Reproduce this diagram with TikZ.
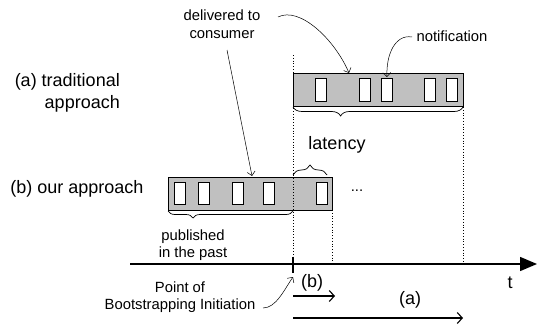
\documentclass[tikz,border=0pt]{standalone}
\usepackage{fontspec}
\setmainfont{Liberation Sans}
\usetikzlibrary{arrows.meta,decorations.pathreplacing}
\definecolor{barfill}{RGB}{192,192,192}
\newcommand\txtS{\fontsize{14.8}{17.5}\selectfont}
\newcommand\txtL{\fontsize{18}{22}\selectfont}
\begin{document}
\begin{tikzpicture}[x=1pt,y=-1pt,
  bar/.style={draw=black, line width=0.9pt, fill=barfill, inner sep=0pt, outer sep=0pt, anchor=north west, minimum height=33pt},
  notch/.style={draw=black, line width=0.8pt, fill=white, inner sep=0pt, outer sep=0pt, anchor=north west, minimum width=11pt, minimum height=23pt},
  guide/.style={dotted, line width=0.8pt},
  callout/.style={line width=0.5pt, -{Straight Barb[length=4pt,width=8pt]}},
  bigtxt/.style={font=\txtL, inner sep=0pt},
  smalltxt/.style={font=\txtS, inner sep=0pt, align=center},
  timearrow/.style={line width=1.1pt, -{Straight Barb[length=5pt,width=11pt]}}
]
\useasboundingbox (0,0) rectangle (537,329);

% bars
\node[bar, minimum width=164pt] (lowbar) at (168,177) {};
\foreach \x [count=\i] in {174,198,232,263,316}
  \node[notch, minimum height=22pt] (ln\i) at (\x,182) {};
\node[bar, minimum width=170pt] (topbar) at (293,73) {};
\foreach \x [count=\i] in {315,359,381,424,446}
  \node[notch] (tn\i) at (\x,78) {};

% guide lines
\coordinate (g1a) at (293,55);
\coordinate (g1b) at (293,257);
\coordinate (g2a) at (463,107);
\coordinate (g2b) at (463,264);
\coordinate (g3a) at (332,210);
\coordinate (g3b) at (332,264);
\draw[guide] (g1a) -- (g1b);
\draw[guide] (g2a) -- (g2b);
\draw[guide] (g3a) -- (g3b);

% braces
\draw[line width=0.7pt, decorate, decoration={brace, mirror, amplitude=9pt, aspect=0.28}]
  ([yshift=-1pt]topbar.south west) -- ([yshift=-1pt]topbar.south east);
\draw[line width=0.7pt, decorate, decoration={brace, mirror, amplitude=7pt, aspect=0.2}]
  ([yshift=-1pt]lowbar.south west) -- ([yshift=-1pt,xshift=-39pt]lowbar.south east);
\coordinate (lb1) at (293,175);
\coordinate (lb2) at (327,175);
\draw[line width=0.7pt, decorate, decoration={brace, amplitude=10pt, aspect=0.5}] (lb1) -- (lb2);

% time axis
\coordinate (ax0) at (130,264);
\coordinate (ax1) at (537,264);
\draw[line width=1.5pt, -{Triangle[length=17pt,width=14pt]}] (ax0) -- (ax1);
\coordinate (tk0) at (293,257);
\coordinate (tk1) at (293,273);
\draw[line width=1.2pt] (tk0) -- (tk1);

\coordinate (ab0) at (293,296);
\coordinate (ab1) at (335,296);
\draw[timearrow] (ab0) -- (ab1);
\coordinate (aa0) at (293,318);
\coordinate (aa1) at (463,318);
\draw[timearrow] (aa0) -- (aa1);

% texts
\node[bigtxt, anchor=east, align=right] (trad) at (120,93) {(a) traditional\\approach};
\node[bigtxt] (ours) at (77,189) {(b) our approach};
\node[bigtxt] (lat) at (337,145) {latency};
\node[bigtxt] (tlab) at (510,283) {t};
\node[bigtxt] (blab) at (312,283) {(b)};
\node[bigtxt] (alab) at (410,300) {(a)};
\node[smalltxt] (deliv) at (222,24) {delivered to\\consumer};
\node[smalltxt] (notif) at (452,36) {notification};
\node[smalltxt] (pub) at (193,245) {published\\in the past};
\node[smalltxt] (boot) at (180,297) {Point of\\Bootstrapping Initiation};
\node[smalltxt] (dots) at (357,191) {...};

% callouts
\coordinate (c1s) at (278,17);
\coordinate (c1e) at (349,73);
\draw[callout] (c1s) .. controls (300,6) and (335,40) .. (c1e);
\coordinate (c2s) at (227,50);
\coordinate (c2e) at (252,176);
\draw[callout] (c2s) -- (c2e);
\coordinate (c3s) at (412,37);
\coordinate (c3e) at (387,77);
\draw[callout] (c3s) .. controls (395,34) and (386,55) .. (c3e);
\coordinate (c4s) at (263,308);
\coordinate (c4e) at (293,277);
\draw[callout] (c4s) .. controls (276,308) and (284,290) .. (c4e);
\end{tikzpicture}
\end{document}
